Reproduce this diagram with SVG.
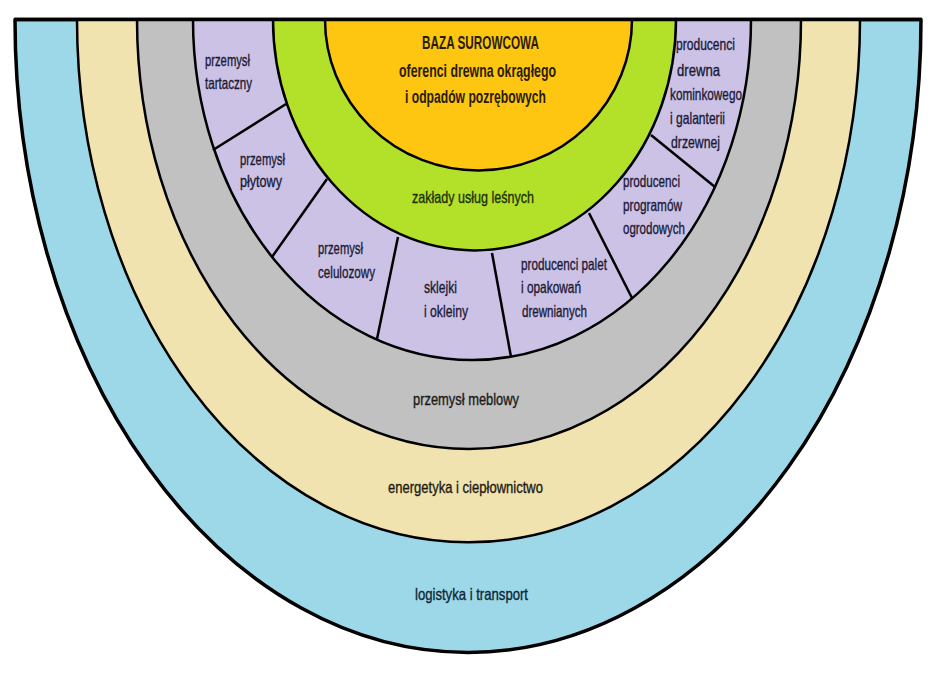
<svg xmlns="http://www.w3.org/2000/svg" width="936" height="693" viewBox="0 0 936 693">
<style>
.ring{stroke:#000;stroke-width:2.5;stroke-linejoin:round}
.outer{stroke-width:3.5}
.div{stroke:#000;stroke-width:2.5;fill:none}
text{font-family:"Liberation Sans",Arial,sans-serif;font-size:16.5px;stroke-width:0.35}
.lbl{fill:#1c1a36;stroke:#1c1a36}
.c{text-anchor:middle}
.b{font-weight:bold;font-size:18.5px;fill:#2a1c00}
</style>
<rect width="936" height="693" fill="#fff"/>
<g id="ring-logistyka">
<path class="ring outer" fill="#9dd8e9" d="M15,19.5 A453,633 0 0 0 921,19.5 Z"/>
<text class="c" x="471.5" y="600" textLength="113" lengthAdjust="spacingAndGlyphs" fill="#0e2632" stroke="#0e2632">logistyka i transport</text>
</g>
<g id="ring-energetyka">
<path class="ring" fill="#f0e3b0" d="M77,19.5 A391.5,523 0 0 0 860,19.5 Z"/>
<text class="c" x="465.5" y="493" textLength="155" lengthAdjust="spacingAndGlyphs" fill="#1e1a10" stroke="#1e1a10">energetyka i ciepłownictwo</text>
</g>
<g id="ring-meblowy">
<path class="ring" fill="#c1c1c1" d="M137,19.5 A332,429.5 0 0 0 801,19.5 Z"/>
<text class="c" x="466" y="405" textLength="106" lengthAdjust="spacingAndGlyphs" fill="#1a1a1a" stroke="#1a1a1a">przemysł meblowy</text>
</g>
<g id="ring-przemysl">
<path class="ring" fill="#cbc2e6" d="M193,19.5 A279,340.5 0 0 0 751,19.5 Z"/>
<line class="div" x1="286" y1="104" x2="213" y2="150"/>
<line class="div" x1="327" y1="179" x2="272" y2="257"/>
<line class="div" x1="398" y1="237" x2="377" y2="339"/>
<line class="div" x1="492" y1="253" x2="511" y2="357"/>
<line class="div" x1="589" y1="213" x2="632" y2="298"/>
<line class="div" x1="651" y1="135" x2="715" y2="187"/>
</g>
<g id="seg-tartaczny">
<text class="lbl" x="205" y="66" textLength="45" lengthAdjust="spacingAndGlyphs">przemysł</text>
<text class="lbl" x="205" y="89" textLength="47" lengthAdjust="spacingAndGlyphs">tartaczny</text>
</g>
<g id="seg-plytowy">
<text class="lbl" x="240" y="165" textLength="45" lengthAdjust="spacingAndGlyphs">przemysł</text>
<text class="lbl" x="240" y="187" textLength="42" lengthAdjust="spacingAndGlyphs">płytowy</text>
</g>
<g id="seg-celulozowy">
<text class="lbl" x="318" y="254" textLength="45" lengthAdjust="spacingAndGlyphs">przemysł</text>
<text class="lbl" x="318" y="278" textLength="57" lengthAdjust="spacingAndGlyphs">celulozowy</text>
</g>
<g id="seg-sklejki">
<text class="lbl" x="424" y="293" textLength="33" lengthAdjust="spacingAndGlyphs">sklejki</text>
<text class="lbl" x="424" y="317" textLength="44" lengthAdjust="spacingAndGlyphs">i okleiny</text>
</g>
<g id="seg-palety">
<text class="lbl" x="521" y="270" textLength="86" lengthAdjust="spacingAndGlyphs">producenci palet</text>
<text class="lbl" x="521" y="293" textLength="60" lengthAdjust="spacingAndGlyphs">i opakowań</text>
<text class="lbl" x="522" y="317" textLength="65" lengthAdjust="spacingAndGlyphs">drewnianych</text>
</g>
<g id="seg-ogrodowe">
<text class="lbl" x="623" y="187" textLength="57" lengthAdjust="spacingAndGlyphs">producenci</text>
<text class="lbl" x="623" y="211" textLength="59" lengthAdjust="spacingAndGlyphs">programów</text>
<text class="lbl" x="623" y="234" textLength="62" lengthAdjust="spacingAndGlyphs">ogrodowych</text>
</g>
<g id="seg-kominkowe">
<text class="lbl" x="676" y="50" textLength="59" lengthAdjust="spacingAndGlyphs">producenci</text>
<text class="lbl" x="677" y="76" textLength="43" lengthAdjust="spacingAndGlyphs">drewna</text>
<text class="lbl" x="670" y="100" textLength="72" lengthAdjust="spacingAndGlyphs">kominkowego</text>
<text class="lbl" x="670" y="124" textLength="55" lengthAdjust="spacingAndGlyphs">i galanterii</text>
<text class="lbl" x="671" y="148" textLength="49" lengthAdjust="spacingAndGlyphs">drzewnej</text>
</g>
<g id="ring-uslugi">
<path class="ring" fill="#b3e12a" d="M273,19.5 A201.5,231 0 0 0 676,19.5 Z"/>
<text class="c" x="473" y="203" textLength="122" lengthAdjust="spacingAndGlyphs" fill="#1b3000" stroke="#1b3000">zakłady usług leśnych</text>
</g>
<g id="baza">
<path class="ring" fill="#fec610" d="M325,19.5 A153.5,151 0 0 0 632,19.5 Z"/>
<text class="c b" x="480.5" y="49" textLength="117" lengthAdjust="spacingAndGlyphs">BAZA SUROWCOWA</text>
<text class="c b" x="477.5" y="77" textLength="157" lengthAdjust="spacingAndGlyphs">oferenci drewna okrągłego</text>
<text class="c b" x="475.5" y="103" textLength="141" lengthAdjust="spacingAndGlyphs">i odpadów pozrębowych</text>
</g>
<g id="connectors">
<line x1="14" y1="19.5" x2="922" y2="19.5" stroke="#000" stroke-width="3.5"/>
</g>
</svg>
